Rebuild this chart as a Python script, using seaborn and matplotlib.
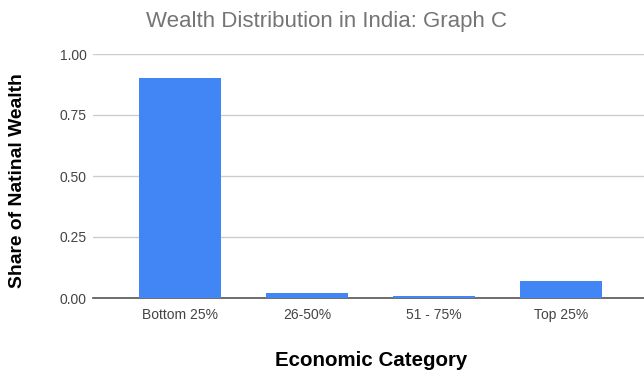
import matplotlib
matplotlib.use("Agg")
import matplotlib.pyplot as plt
import seaborn as sns
import pandas as pd

categories = ["Bottom 25%", "26-50%", "51 - 75%", "Top 25%"]
share = [0.90, 0.02, 0.01, 0.07]
yticks = [0.00, 0.25, 0.50, 0.75, 1.00]
ytick_labels = ["0.00", "0.25", "0.50", "0.75", "1.00"]

df = pd.DataFrame({"category": categories, "share": share})

sns.set_theme(style="white")
plt.rcParams["font.family"] = ["Liberation Sans", "DejaVu Sans"]

W, H = 644, 376
fig = plt.figure(figsize=(W / 100, H / 100), dpi=100)
ax = fig.add_axes([93 / W, 1 - 298 / H, 1 - 93 / W, (298 - 54) / H])

sns.barplot(data=df, x="category", y="share", color="#4285F4", saturation=1,
            width=0.645, linewidth=0, ax=ax, zorder=3)

ax.set_ylim(0, 1.0)
ax.set_xlim(-0.684, 3.65)
ax.set_yticks(yticks)
ax.set_yticklabels(ytick_labels)
ax.yaxis.grid(True, color="#cccccc", linewidth=1, zorder=0)
ax.xaxis.grid(False)
for side in ["top", "right", "left"]:
    ax.spines[side].set_visible(False)
ax.spines["bottom"].set_color("#555555")
ax.spines["bottom"].set_linewidth(1.2)
ax.spines["bottom"].set_zorder(2.5)
ax.tick_params(axis="both", length=0, colors="#444444", labelsize=10)
ax.tick_params(axis="y", pad=4.5)
ax.tick_params(axis="x", pad=7)

ax.set_xlabel("")
ax.set_ylabel("")

fig.text(327 / W, 1 - 22 / H, "Wealth Distribution in India: Graph C",
         ha="center", va="center", fontsize=16, color="#757575")
fig.text(18 / W, 1 - 181 / H, "Share of Natinal Wealth", rotation=90,
         ha="center", va="center", fontsize=13.9, fontweight="bold", color="#000000")
fig.text(371 / W, 1 - 361 / H, "Economic Category",
         ha="center", va="center", fontsize=14.8, fontweight="bold", color="#000000")

fig.savefig("out.png", dpi=100)
